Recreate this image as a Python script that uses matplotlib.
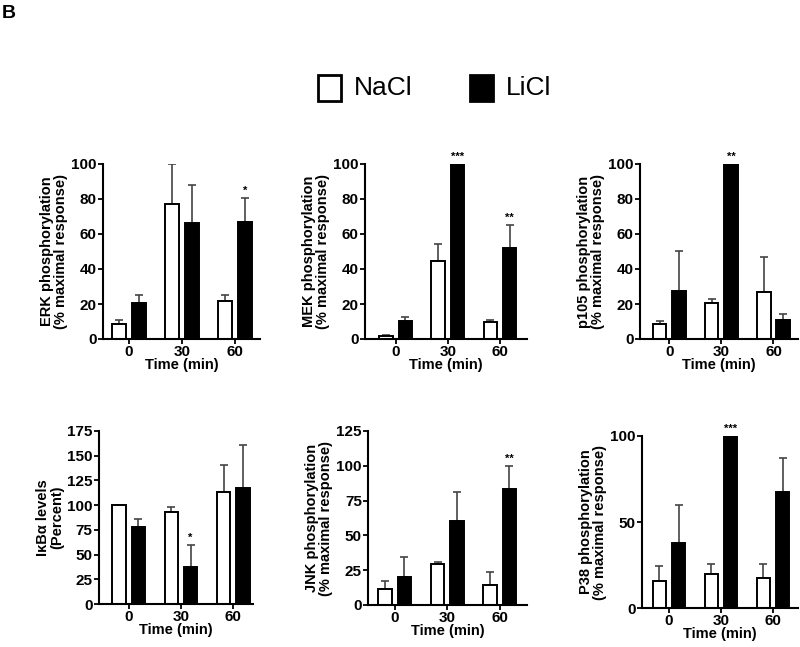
import numpy as np
import matplotlib.pyplot as plt
from matplotlib.patches import Rectangle

plt.rcParams['font.family'] = ['Liberation Sans', 'DejaVu Sans']

# ---- data ----
times = ["0", "30", "60"]

erk_nacl = [8.5, 77, 21.5]
erk_nacl_err = [2.5, 23, 3.5]
erk_licl = [20.5, 66, 67]
erk_licl_err = [4.5, 22, 13.5]
erk_stars = ["", "", "*"]

mek_nacl = [2, 44.5, 10]
mek_nacl_err = [0.5, 10, 1]
mek_licl = [10.5, 100, 52]
mek_licl_err = [2, 0, 13]
mek_stars = ["", "***", "**"]

p105_nacl = [8.5, 20.5, 27]
p105_nacl_err = [2, 2.5, 20]
p105_licl = [27.5, 100, 11]
p105_licl_err = [22.5, 0, 3.5]
p105_stars = ["", "**", ""]

ikb_nacl = [100, 93, 113]
ikb_nacl_err = [0, 5, 28]
ikb_licl = [78, 37, 117]
ikb_licl_err = [8, 23, 44]
ikb_stars = ["", "*", ""]

jnk_nacl = [11.5, 29.5, 14.5]
jnk_nacl_err = [6, 1.5, 9]
jnk_licl = [20, 60.5, 83.5]
jnk_licl_err = [14.5, 20.5, 16.5]
jnk_stars = ["", "", "**"]

p38_nacl = [15.5, 19.5, 17.5]
p38_nacl_err = [9, 6, 8]
p38_licl = [38, 100, 67.5]
p38_licl_err = [22, 0, 20]
p38_stars = ["", "***", ""]

W, H = 800, 647
fig = plt.figure(figsize=(W / 100, H / 100), dpi=100)


def px_axes(x0, x1, y0, y1):
    # pixel box (top-left origin) -> figure coords
    return fig.add_axes([x0 / W, 1 - y1 / H, (x1 - x0) / W, (y1 - y0) / H])


def panel(box, xlim, nacl, nacl_err, licl, licl_err, stars, ylim, yticks, ylabel):
    ax = px_axes(*box)
    x = np.arange(len(times))
    off, bw = 0.185, 0.26
    ax.bar(x - off, nacl, bw, color="white", edgecolor="black", lw=1.4, zorder=2)
    ax.bar(x + off, licl, bw, color="black", edgecolor="black", lw=1.4, zorder=2)
    for xs, v, e in [(x - off, nacl, nacl_err), (x + off, licl, licl_err)]:
        ax.errorbar(xs, v, yerr=[np.zeros(len(e)), e], fmt="none",
                    ecolor="#444444", elinewidth=1.2, capsize=3, capthick=1.2, zorder=1)
    for i, s in enumerate(stars):
        if s:
            top = licl[i] + licl_err[i]
            ax.text(x[i] + off, top + ylim[1] * 0.012, s, ha="center", va="bottom",
                    fontsize=8, fontweight="bold")
    ax.set_xlim(*xlim)
    ax.set_ylim(*ylim)
    ax.set_yticks(yticks)
    ax.set_xticks(x)
    ax.set_xticklabels(times)
    for sp in ["top", "right"]:
        ax.spines[sp].set_visible(False)
    for sp in ["left", "bottom"]:
        ax.spines[sp].set_linewidth(1.5)
    ax.tick_params(axis="both", direction="out", length=3.5, width=1.3,
                   labelsize=11, pad=1)
    for lab in ax.get_xticklabels() + ax.get_yticklabels():
        lab.set_fontweight("bold")
    ax.set_xlabel("Time (min)", fontsize=10.5, fontweight="bold", labelpad=-1)
    ax.set_ylabel(ylabel, fontsize=10.5, fontweight="bold", labelpad=2, linespacing=1.05)
    return ax


panel((103, 260, 164, 339), (-0.49, 2.47), erk_nacl, erk_nacl_err, erk_licl, erk_licl_err,
      erk_stars, (0, 100), [0, 20, 40, 60, 80, 100],
      "ERK phosphorylation\n(% maximal response)")
panel((365, 527, 164, 339), (-0.59, 2.52), mek_nacl, mek_nacl_err, mek_licl, mek_licl_err,
      mek_stars, (0, 100), [0, 20, 40, 60, 80, 100],
      "MEK phosphorylation\n(% maximal response)")
panel((640, 798, 164, 339), (-0.56, 2.47), p105_nacl, p105_nacl_err, p105_licl, p105_licl_err,
      p105_stars, (0, 100), [0, 20, 40, 60, 80, 100],
      "p105 phosphorylation\n(% maximal response)")
panel((99, 253, 431, 604), (-0.57, 2.38), ikb_nacl, ikb_nacl_err, ikb_licl, ikb_licl_err,
      ikb_stars, (0, 175), [0, 25, 50, 75, 100, 125, 150, 175],
      "IκBα levels\n(Percent)")
panel((368, 527, 431, 605), (-0.51, 2.52), jnk_nacl, jnk_nacl_err, jnk_licl, jnk_licl_err,
      jnk_stars, (0, 125), [0, 25, 50, 75, 100, 125],
      "JNK phosphorylation\n(% maximal response)")
panel((642, 798, 436, 608), (-0.52, 2.48), p38_nacl, p38_nacl_err, p38_licl, p38_licl_err,
      p38_stars, (0, 100), [0, 50, 100],
      "P38 phosphorylation\n(% maximal response)")

# panel letter
fig.text(2 / W, 1 - 13 / H, "B", fontsize=14, fontweight="bold", va="center", ha="left")

# legend at top
for (bx, tx, name, fc) in [(318, 354, "NaCl", "white"), (470, 506, "LiCl", "black")]:
    fig.patches.append(Rectangle((bx / W, 1 - 101 / H), 23 / W, 26 / H,
                                 facecolor=fc, edgecolor="black", lw=2,
                                 transform=fig.transFigure, figure=fig))
    fig.text(tx / W, 1 - 88 / H, name, fontsize=19, va="center", ha="left")

fig.savefig("out.png", dpi=100)
